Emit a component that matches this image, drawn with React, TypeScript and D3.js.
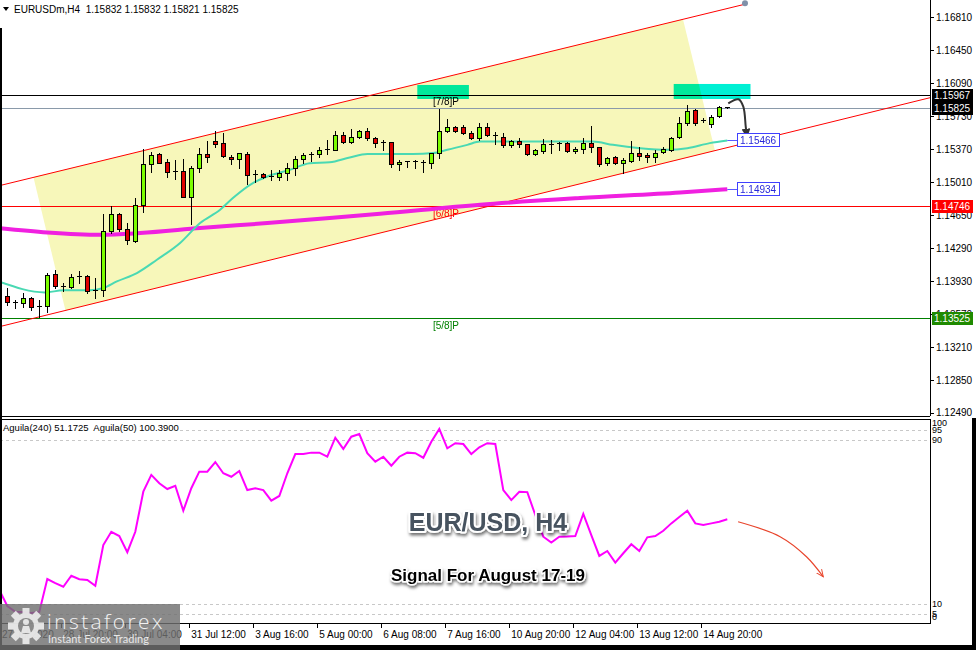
import React from 'react';
import * as d3 from 'd3';

// ---------- DATA ----------
const candleOpen = [1.13763,1.13700,1.13691,1.13749,1.13651,1.13662,1.14011,1.13872,1.13869,1.13978,1.13982,1.13825,1.13829,1.14472,1.14665,1.14502,1.14363,1.14764,1.15211,1.15320,1.15232,1.15138,1.15134,1.14847,1.15170,1.15320,1.15465,1.15437,1.15290,1.15262,1.15317,1.15102,1.15098,1.15072,1.15072,1.15109,1.15164,1.15262,1.15317,1.15317,1.15371,1.15364,1.15527,1.15454,1.15509,1.15571,1.15491,1.15445,1.15451,1.15205,1.15236,1.15240,1.15225,1.15218,1.15328,1.15571,1.15611,1.15611,1.15552,1.15491,1.15611,1.15527,1.15509,1.15418,1.15462,1.15429,1.15320,1.15356,1.15429,1.15437,1.15443,1.15353,1.15371,1.15443,1.15393,1.15218,1.15284,1.15218,1.15247,1.15334,1.15309,1.15284,1.15338,1.15364,1.15502,1.15655,1.15800,1.15691,1.15644,1.15734,1.15832];
const candleHigh = [1.13858,1.13727,1.13803,1.13760,1.13727,1.14022,1.14054,1.13912,1.14011,1.14036,1.14000,1.13967,1.14665,1.14753,1.14676,1.14567,1.14840,1.15374,1.15345,1.15331,1.15265,1.15254,1.15265,1.15189,1.15385,1.15465,1.15574,1.15552,1.15309,1.15330,1.15342,1.15145,1.15113,1.15145,1.15145,1.15225,1.15298,1.15328,1.15345,1.15400,1.15470,1.15574,1.15563,1.15589,1.15582,1.15600,1.15509,1.15473,1.15454,1.15254,1.15242,1.15254,1.15254,1.15334,1.15808,1.15698,1.15625,1.15636,1.15571,1.15655,1.15661,1.15563,1.15546,1.15473,1.15491,1.15432,1.15375,1.15480,1.15473,1.15448,1.15454,1.15400,1.15491,1.15625,1.15400,1.15284,1.15298,1.15273,1.15465,1.15393,1.15328,1.15364,1.15393,1.15509,1.15720,1.15854,1.15808,1.15709,1.15745,1.15844,1.15832];
const candleLow = [1.13673,1.13640,1.13651,1.13618,1.13541,1.13596,1.13858,1.13817,1.13858,1.13912,1.13803,1.13749,1.13763,1.14458,1.14472,1.14338,1.14360,1.14690,1.15127,1.15222,1.15069,1.15047,1.14845,1.14556,1.15127,1.15236,1.15393,1.15287,1.15211,1.15167,1.14993,1.15007,1.15058,1.15029,1.15036,1.15036,1.15091,1.15225,1.15247,1.15290,1.15320,1.15360,1.15437,1.15437,1.15498,1.15473,1.15400,1.15364,1.15181,1.15145,1.15178,1.15167,1.15123,1.15167,1.15276,1.15563,1.15557,1.15538,1.15480,1.15473,1.15516,1.15429,1.15400,1.15400,1.15400,1.15309,1.15309,1.15334,1.15334,1.15364,1.15345,1.15328,1.15334,1.15345,1.15192,1.15200,1.15205,1.15109,1.15236,1.15254,1.15236,1.15236,1.15328,1.15356,1.15491,1.15636,1.15636,1.15672,1.15618,1.15727,1.15821];
const candleClose = [1.13698,1.13702,1.13749,1.13651,1.13656,1.14000,1.13872,1.13876,1.13978,1.13982,1.13817,1.13829,1.14472,1.14662,1.14502,1.14374,1.14764,1.15211,1.15309,1.15225,1.15127,1.15134,1.14847,1.15170,1.15320,1.15287,1.15429,1.15298,1.15262,1.15328,1.15091,1.15098,1.15066,1.15076,1.15109,1.15164,1.15262,1.15309,1.15320,1.15364,1.15375,1.15527,1.15454,1.15502,1.15571,1.15491,1.15437,1.15449,1.15205,1.15232,1.15240,1.15236,1.15229,1.15328,1.15574,1.15611,1.15574,1.15552,1.15491,1.15611,1.15527,1.15523,1.15418,1.15462,1.15429,1.15320,1.15364,1.15429,1.15432,1.15440,1.15353,1.15375,1.15437,1.15393,1.15208,1.15273,1.15218,1.15254,1.15334,1.15301,1.15280,1.15334,1.15375,1.15498,1.15661,1.15792,1.15655,1.15688,1.15727,1.15829,1.15825];

// moving average (fast, teal)
const maFastBar = [-0.9,4.7,7,10.3,12,13.7,16.2,18.7,21.6,24.1,26.6,28.2,30.7,32.5,35.3,37.8,40.3,42.8,45,50.7,53.2,55,57.5,59.1,73.2,75.7,79.1,82.5,85,87.8,90];
const maFastVal = [1.13920,1.13807,1.13829,1.13829,1.13855,1.13927,1.14018,1.14163,1.14346,1.14564,1.14709,1.14837,1.15000,1.15072,1.15145,1.15218,1.15227,1.15280,1.15317,1.15317,1.15328,1.15364,1.15418,1.15454,1.15454,1.15418,1.15382,1.15364,1.15382,1.15437,1.15466];
// moving average (slow, magenta)
const maSlowBar = [-0.9,5,11.6,16.6,24.1,32.5,40.3,46.6,59.1,71.6,84.1,90];
const maSlowVal = [1.14507,1.14461,1.14436,1.14455,1.14509,1.14564,1.14618,1.14665,1.14764,1.14837,1.14898,1.14934];

// Aguila(240) oscillator, bars -1 .. 90
const aguilaStartBar = -1;
const aguilaVal = [16.6,8.8,6.0,5.9,5.4,5.9,22.0,20.0,18.2,23.6,21.9,21.5,18.7,38.6,45.1,43.0,35.1,45.1,64.7,72.9,68.8,66.0,67.6,55.4,66.4,74.5,74.5,79.2,73.7,72.0,74.8,65.5,66.4,65.5,60.3,62.6,73.7,83.1,83.1,83.8,83.8,81.8,91.1,85.6,91.6,92.9,83.5,79.4,81.8,77.4,81.8,83.8,83.5,81.3,89.1,95.4,85.9,88.4,88.0,83.1,86.4,88.4,88.0,65.5,60.6,64.7,64.5,53.3,42.7,39.8,42.7,42.8,43.0,53.8,43.5,33.3,35.7,30.0,34.6,39.0,35.7,42.4,43.0,45.6,49.2,52.3,55.4,49.2,48.4,49.2,50.0,51.2];

const priceTicks = [1.16810,1.16450,1.16090,1.15730,1.15370,1.15010,1.14650,1.14290,1.13930,1.13570,1.13210,1.12850,1.12490];
const timeTickBars = [7,15,23,31,39,47,55,63,71,79,87];
const timeTickLabels = ['28 Jul 20:00','30 Jul 04:00','31 Jul 12:00','3 Aug 16:00','5 Aug 00:00','6 Aug 08:00','7 Aug 16:00','10 Aug 20:00','12 Aug 04:00','13 Aug 12:00','14 Aug 20:00'];
const firstTimeLabel = '27 Jul 2020';

const levelPrices = [1.15967, 1.14746, 1.13525];
const levelNames = ['[7/8]P', '[6/8]P', '[5/8]P'];
const levelColors = ['#000000', '#ff0000', '#008000'];
const levelLabelBar = 53.2;
const bidPrice = 1.15825;

const indLevels = [95, 90, 10, 5];
const indLabels = [100, 95, 90, 10, 5, 0];

// channel / annotation geometry (data space)
const chanUpperBar = [-0.9125, 92.21];
const chanUpperPrice = [1.14974, 1.16954];
const chanLowerBar = [-0.9125, 115.34];
const chanLowerPrice = [1.13434, 1.15933];
const fillBar = [3.27, 84.46, 88.46, 7.27];
const fillPrice = [1.15064, 1.16789, 1.15355, 1.13610];
const zoneBarStart = [51.25, 83.3];
const zoneBarEnd = [57.7, 92.9];
const zoneTop = [1.16072, 1.16083];
const zoneBottom = [1.15919, 1.15919];
const arrowBar = [90.12, 91.4, 92.0, 92.3, 92.4];
const arrowPrice = [1.15872, 1.15916, 1.15835, 1.15620, 1.15545];
const indArrowBar = [91.35, 96.6, 99.9, 102];
const indArrowVal = [50.0, 42.7, 32.9, 23.1];

const FONT = '"Liberation Sans", Arial, sans-serif';

export default function App() {
  const W = 976, H = 650;
  const plotR = 930;
  const x = d3.scaleLinear().domain([0, 90]).range([7.3, 727.3]);
  const y = d3.scaleLinear().domain([1.12457, 1.17]).range([416, 0]);
  const yi = d3.scaleLinear().domain([0, 100]).range([624, 419.5]);
  const r = (v: number) => Math.round(v) + 0.5;

  const lineXY = d3.line<[number, number]>().x(d => x(d[0])).y(d => y(d[1]));
  const smoothXY = d3.line<[number, number]>().x(d => x(d[0])).y(d => y(d[1])).curve(d3.curveMonotoneX);
  const indLine = d3.line<[number, number]>().x(d => x(d[0])).y(d => yi(d[1]));
  const arrowLine = d3.line<[number, number]>().x(d => x(d[0])).y(d => y(d[1])).curve(d3.curveCatmullRom);
  const indArrowLine = d3.line<[number, number]>().x(d => x(d[0])).y(d => yi(d[1])).curve(d3.curveCatmullRom);

  const fastPts = maFastBar.map((b, i) => [b, maFastVal[i]] as [number, number]);
  const slowPts = maSlowBar.map((b, i) => [b, maSlowVal[i]] as [number, number]);
  const aguilaPts = aguilaVal.map((v, i) => [aguilaStartBar + i, v] as [number, number]);
  const fillPts = fillBar.map((b, i) => [b, fillPrice[i]] as [number, number]);

  const lastFast = maFastVal[maFastVal.length - 1];
  const lastSlow = maSlowVal[maSlowVal.length - 1];

  const candles = candleOpen.map((o, i) => {
    const c = candleClose[i], h = candleHigh[i], l = candleLow[i];
    const cx = Math.round(x(i));
    const yTop = Math.round(y(Math.max(o, c)));
    const yBot = Math.round(y(Math.min(o, c)));
    const bull = c >= o;
    return (
      <g key={i}>
        <line x1={cx + 0.5} x2={cx + 0.5} y1={Math.round(y(h))} y2={Math.round(y(l)) + 1} stroke="#000" strokeWidth={1} />
        {yBot - yTop < 2 ? (
          <line x1={cx - 2} x2={cx + 3} y1={yTop + 0.5} y2={yTop + 0.5} stroke="#000" strokeWidth={1} />
        ) : (
          <rect x={cx - 1.5} y={yTop + 0.5} width={4} height={yBot - yTop} fill={bull ? '#7cfc00' : '#e00000'} stroke="#000" strokeWidth={1} />
        )}
      </g>
    );
  });

  const gearTeeth = d3.range(8).map(k => k * 45);

  return (
    <svg width={W} height={H} style={{ position: 'absolute', left: 0, top: 0, display: 'block', background: '#fff' }} fontFamily={FONT}>
      <defs>
        <clipPath id="mainClip"><rect x={0} y={0} width={plotR} height={416} /></clipPath>
        <clipPath id="indClip"><rect x={0} y={419} width={plotR} height={204} /></clipPath>
        <marker id="arrDark" viewBox="0 0 10 10" refX={5} refY={5} markerWidth={4.5} markerHeight={4.5} orient="auto">
          <path d="M0,0 L10,5 L0,10 Z" fill="#333" />
        </marker>
        <marker id="arrRed" viewBox="0 0 10 10" refX={9} refY={5} markerWidth={8} markerHeight={8} orient="auto" markerUnits="userSpaceOnUse">
          <path d="M0,1 L9,5 L0,9" fill="none" stroke="#e8452c" strokeWidth={1.2} />
        </marker>
        <filter id="shadow" x="-10%" y="-30%" width="120%" height="170%">
          <feDropShadow dx={1} dy={2.5} stdDeviation={1.6} floodColor="#000" floodOpacity={0.55} />
        </filter>
      </defs>

      {/* ---------- MAIN PANEL ---------- */}
      <g clipPath="url(#mainClip)">
        <path d={lineXY(fillPts)! + 'Z'} fill="#f7f7ba" />
        {zoneBarStart.map((b, i) => (
          <rect key={i} x={x(b)} y={y(zoneTop[i])} width={x(zoneBarEnd[i]) - x(b)} height={y(zoneBottom[i]) - y(zoneTop[i])}
            fill="#00f0d4" style={{ mixBlendMode: 'multiply' }} />
        ))}
        {/* horizontal levels */}
        <line x1={0} x2={plotR} y1={r(y(bidPrice))} y2={r(y(bidPrice))} stroke="#8a9aaa" strokeWidth={1} />
        {levelPrices.map((p, i) => (
          <line key={i} x1={0} x2={plotR} y1={r(y(p))} y2={r(y(p))} stroke={levelColors[i]} strokeWidth={1} />
        ))}
        {levelPrices.map((p, i) => (
          <text key={'t' + i} x={x(levelLabelBar)} y={y(p) + 10.5} fontSize={10} fill={levelColors[i]}>{levelNames[i]}</text>
        ))}
        {/* channel */}
        <path d={lineXY(chanUpperBar.map((b, i) => [b, chanUpperPrice[i]] as [number, number]))!} stroke="#ff0000" strokeWidth={1} fill="none" />
        <path d={lineXY(chanLowerBar.map((b, i) => [b, chanLowerPrice[i]] as [number, number]))!} stroke="#ff0000" strokeWidth={1} fill="none" />
        <circle cx={x(chanUpperBar[1])} cy={y(chanUpperPrice[1]) - 1} r={3} fill="#8090a8" />
        {/* moving averages */}
        <path d={smoothXY(slowPts)!} stroke="#f020e0" strokeWidth={4} fill="none" />
        <path d={smoothXY(fastPts)!} stroke="#4ad9b3" strokeWidth={2} fill="none" />
        {candles}
        {/* dark arrow */}
        <path d={arrowLine(arrowBar.map((b, i) => [b, arrowPrice[i]] as [number, number]))!} stroke="#333" strokeWidth={2} fill="none" markerEnd="url(#arrDark)" />
        {/* MA value labels */}
        {[lastFast, lastSlow].map((v, i) => (
          <g key={'ml' + i}>
            <line x1={x(90)} x2={737.5} y1={r(y(v))} y2={r(y(v))} stroke="#5a5aff" strokeWidth={1} />
            <rect x={737.5} y={r(y(v)) - 7} width={42} height={13} fill="#fff" stroke="#4040ff" strokeWidth={1} />
            <text x={740} y={r(y(v)) + 3.5} fontSize={10} fill="#2828d8">{v.toFixed(5)}</text>
          </g>
        ))}
      </g>

      {/* title */}
      <path d="M3,7 L9,7 L6,11 Z" fill="#000" />
      <text x={14} y={12.5} fontSize={10} fill="#000" xmlSpace="preserve">{'EURUSDm,H4  1.15832 1.15832 1.15821 1.15825'}</text>

      {/* right price axis */}
      <line x1={r(plotR)} x2={r(plotR)} y1={0} y2={416} stroke="#000" />
      {priceTicks.map((p, i) => (
        <g key={i}>
          <line x1={plotR} x2={plotR + 4} y1={r(y(p))} y2={r(y(p))} stroke="#000" />
          <text x={936} y={y(p) + 3.5} fontSize={10} fill="#000">{p.toFixed(5)}</text>
        </g>
      ))}
      {[levelPrices[0], bidPrice, levelPrices[1], levelPrices[2]].map((p, i) => {
        const col = ['#000', '#000', '#ff0000', '#1f8a00'][i];
        return (
          <g key={'pb' + i}>
            <rect x={932} y={Math.round(y(p)) - 6} width={41} height={13} fill={col} />
            <text x={934} y={Math.round(y(p)) + 4} fontSize={10} fill="#fff">{p.toFixed(5)}</text>
          </g>
        );
      })}
      <line x1={0} x2={plotR} y1={416.5} y2={416.5} stroke="#000" />

      {/* ---------- INDICATOR PANEL ---------- */}
      <line x1={0} x2={plotR} y1={419.5} y2={419.5} stroke="#000" />
      <line x1={r(plotR)} x2={r(plotR)} y1={419} y2={624} stroke="#000" />
      <line x1={0} x2={plotR} y1={623.5} y2={623.5} stroke="#000" />
      {indLevels.map((v, i) => (
        <line key={i} x1={0} x2={plotR} y1={r(yi(v))} y2={r(yi(v))} stroke="#c8c8c8" strokeDasharray="3,3" />
      ))}
      <rect x={2} y={421} width={174} height={12} fill="#fff" />
      <text x={3} y={430.5} fontSize={9.5} fill="#000" xmlSpace="preserve">{'Aguila(240) 51.1725  Aguila(50) 100.3900'}</text>
      <g clipPath="url(#indClip)">
        <path d={indLine(aguilaPts)!} stroke="#ff00ff" strokeWidth={2} fill="none" />
      </g>
      {indLabels.map((v, i) => (
        <text key={i} x={932} y={Math.min(Math.max(yi(v), 423), 617) + 3} fontSize={9} fill="#000">{v}</text>
      ))}
      <path d={indArrowLine(indArrowBar.map((b, i) => [b, indArrowVal[i]] as [number, number]))!} stroke="#e8452c" strokeWidth={1.2} fill="none" markerEnd="url(#arrRed)" />

      {/* big captions */}
      <text x={488} y={531} textAnchor="middle" fontSize={25} fontWeight="bold" fill="#46525f" stroke="#fff" strokeWidth={4} strokeLinejoin="round" style={{ paintOrder: 'stroke' }} filter="url(#shadow)">EUR/USD, H4</text>
      <text x={391} y={581} fontSize={17} fontWeight="bold" fill="#000" stroke="#fff" strokeWidth={3} strokeLinejoin="round" style={{ paintOrder: 'stroke' }} filter="url(#shadow)">Signal For August 17-19</text>

      {/* ---------- TIME AXIS ---------- */}
      <text x={2} y={638} fontSize={10} fill="#000">{firstTimeLabel}</text>
      {timeTickBars.map((b, i) => (
        <g key={i}>
          <line x1={r(x(b) - 2)} x2={r(x(b) - 2)} y1={624} y2={628} stroke="#000" />
          <text x={x(b)} y={638} fontSize={10} fill="#000">{timeTickLabels[i]}</text>
        </g>
      ))}

      {/* frame */}
      <rect x={0} y={28} width={2} height={622} fill="#000" />
      <rect x={972} y={418} width={4} height={232} fill="#000" />
      <rect x={0} y={645} width={976} height={5} fill="#000" />

      {/* logo */}
      <g>
        <rect x={0} y={604} width={180} height={46} fill="#707070" opacity={0.82} />
        <g transform="translate(26,626)" opacity={0.9}>
          {gearTeeth.map(a => (
            <rect key={a} x={-3.5} y={-18} width={7} height={8} fill="#eee" transform={`rotate(${a})`} />
          ))}
          <circle r={13} fill="#eee" />
          <circle r={8} fill="#8a8a8a" />
          <circle cx={0} cy={-4} r={3} fill="#eee" />
          <path d="M-5,7 L-3,0 L3,0 L5,7 Z" fill="#eee" />
        </g>
        <text x={47} y={629} fontFamily='"Open Sans", sans-serif' fontWeight={300} fontSize={21} letterSpacing={2.4} fill="#f2f2f2">instaforex</text>
        <text x={48} y={643} fontFamily='Lato, sans-serif' fontSize={11} fill="#e8e8e8">Instant Forex Trading</text>
      </g>
    </svg>
  );
}
